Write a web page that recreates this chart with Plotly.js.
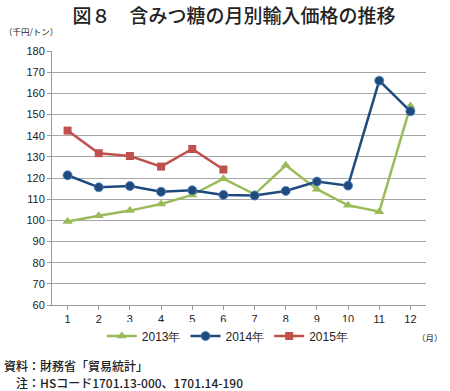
<!DOCTYPE html>
<html><head><meta charset="utf-8">
<script src="https://cdn.plot.ly/plotly-3.0.1.min.js"></script>
<style>html,body{margin:0;padding:0;background:#fff}#c{width:450px;height:391px}</style>
</head><body><div id="c"></div>
<script>
const months = [1,2,3,4,5,6,7,8,9,10,11,12];
const monthLabels = ["1","2","3","4","5","6","7","8","9","10","11","12"];
const s2013 = [99.4,102.2,104.6,107.7,112.0,119.7,112.3,126.0,114.7,107.1,104.1,154.0];
const s2014 = [121.3,115.6,116.2,113.5,114.2,112.0,111.7,113.9,118.3,116.4,166.0,151.5];
const s2015 = [142.4,131.7,130.4,125.4,133.7,124.0];
const names = ["2013年","2014年","2015年"];
const yTicks = [60,70,80,90,100,110,120,130,140,150,160,170,180];

const jp = '"Noto Sans CJK JP", "Liberation Sans", sans-serif';
const num = '"Liberation Sans", Arial, sans-serif';
const traces = [
  {x: months, y: s2013, name: names[0], mode: 'lines+markers', line:{color:'#9BBB59', width:2.5}, marker:{symbol:'triangle-up', size:9, color:'#9BBB59'}},
  {x: months, y: s2014, name: names[1], mode: 'lines+markers', line:{color:'#1F4A7E', width:2.5}, marker:{symbol:'circle', size:9, color:'#1F4A7E', line:{color:'#4F81BD', width:0.8}}},
  {x: months.slice(0, s2015.length), y: s2015, name: names[2], mode: 'lines+markers', line:{color:'#C0504D', width:2.5}, marker:{symbol:'square', size:8, color:'#C0504D'}}
];
const layout = {
  width:450, height:391,
  margin:{l:52, r:24, t:51, b:86},
  paper_bgcolor:'#fff', plot_bgcolor:'#fff',
  showlegend:true,
  legend:{orientation:'h', x:0.47, xanchor:'center', y:-0.065, yanchor:'top', font:{family:num, size:12, color:'#222'}, itemwidth:30, tracegroupgap:0},
  title:{text:'図８　含みつ糖の月別輸入価格の推移', x:0.52, xanchor:'center', y:0.975, yanchor:'top', font:{family:jp, size:19, color:'#222', weight:500}},
  xaxis:{range:[0.5,12.5], tickmode:'array', tickvals:months, ticktext:monthLabels, ticks:'outside', tickson:'boundaries', ticklen:4, tickcolor:'#999', showline:true, linecolor:'#999', linewidth:1, showgrid:false, zeroline:false, tickfont:{family:num, size:11, color:'#222'}, fixedrange:true},
  yaxis:{range:[60,180], tickmode:'array', tickvals:yTicks, ticks:'outside', ticklen:4, tickcolor:'#999', showline:true, linecolor:'#999', linewidth:1, showgrid:true, gridcolor:'#a6a6a6', gridwidth:1, zeroline:false, tickfont:{family:num, size:11, color:'#222'}, fixedrange:true},
  annotations:[
    {text:'（千円/トン）', xref:'paper', yref:'paper', x:-0.135, y:1.08, xanchor:'left', yanchor:'middle', showarrow:false, font:{family:jp, size:8.5, color:'#222'}},
    {text:'（月）', xref:'paper', yref:'paper', x:1.05, y:-0.125, xanchor:'right', yanchor:'middle', showarrow:false, font:{family:jp, size:8.5, color:'#222'}},
    {text:'資料：財務省「貿易統計」', xref:'paper', yref:'paper', x:-0.135, y:-0.24, xanchor:'left', yanchor:'middle', showarrow:false, font:{family:jp, size:12, color:'#222', weight:500}},
    {text:'　注：HSコード1701.13-000、1701.14-190', xref:'paper', yref:'paper', x:-0.135, y:-0.305, xanchor:'left', yanchor:'middle', showarrow:false, font:{family:jp, size:12, color:'#222', weight:500}}
  ]
};
Plotly.newPlot('c', traces, layout, {displayModeBar:false, staticPlot:true});
</script></body></html>
